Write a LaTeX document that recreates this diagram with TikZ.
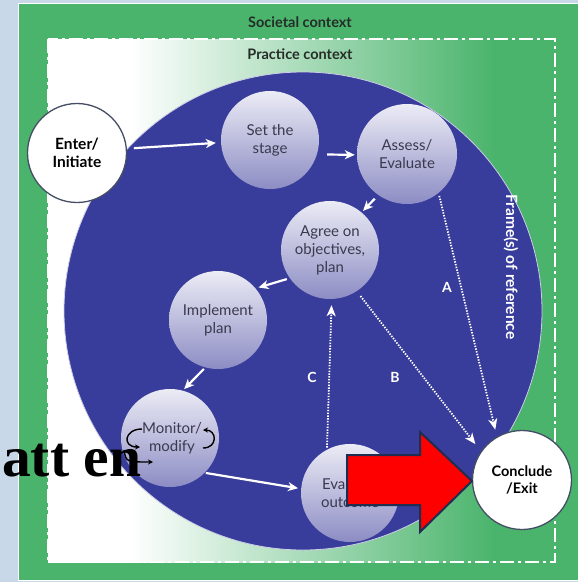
\documentclass[tikz,border=0pt]{standalone}
\usepackage{fontspec}
\usetikzlibrary{arrows.meta,shapes.geometric}
\newfontfamily\lato{Lato}
\newfontfamily\serifb{Liberation Serif}
\definecolor{bgblue}{RGB}{200,216,232}
\definecolor{frgreen}{RGB}{74,180,108}
\definecolor{bigblue}{RGB}{56,60,155}
\definecolor{balltop}{RGB}{236,236,246}
\definecolor{ballbot}{RGB}{140,140,196}
\definecolor{txtgray}{RGB}{58,58,78}
\definecolor{ctxgray}{RGB}{38,44,40}
\definecolor{navy}{RGB}{30,45,80}
\pgfdeclarehorizontalshading{innergrad}{100bp}{color(0bp)=(white); color(25bp)=(white); color(33bp)=(white); color(69bp)=(frgreen); color(100bp)=(frgreen)}
\tikzset{
  stage/.style={circle, minimum size=98pt, inner sep=0pt, top color=balltop, bottom color=ballbot, text=txtgray, font=\lato\fontsize{15}{18}\selectfont, align=center},
  endpt/.style={circle, minimum size=99pt, inner sep=0pt, fill=white, draw=navy!60!gray, line width=1.3pt, text=black, font=\lato\bfseries\fontsize{15.5}{18}\selectfont, align=center},
  flow/.style={white, line width=2.2pt, -{Stealth[length=10pt,width=9pt,inset=3pt]}},
  dotflow/.style={white, line width=1.8pt, dash pattern=on 1.4pt off 1.4pt, -{Stealth[length=11pt,width=9pt,inset=3pt]}},
  cyc/.style={black, line width=1.4pt, -{Stealth[length=5pt,width=5pt]}},
  lbl/.style={white, font=\lato\bfseries\fontsize{14}{16}\selectfont},
  ctx/.style={text=ctxgray, font=\lato\bfseries\fontsize{14.5}{17}\selectfont}
}
\begin{document}
\begin{tikzpicture}[x=1pt,y=-1pt]
\useasboundingbox (0,0) rectangle (578,582);
\fill[bgblue] (0,0) rectangle (578,582);
% frames
\draw[white, line width=1pt, fill=frgreen] (18.5,3.5) rectangle (580,580);
\shade[shading=innergrad] (48,39) rectangle (555,562);
\draw[white, line width=2pt, dash pattern=on 14pt off 4pt on 3pt off 4pt] (48,39) rectangle (555,562);
\node[ctx] (soc) at (300,22) {Societal context};
\node[ctx] (prac) at (300,54) {Practice context};
% big circle
\fill[bigblue] (303,311) circle[radius=239];
\draw[white!75!bigblue, line width=0.8pt] (303,311) circle[radius=239];
\node[white, rotate=-90, font=\lato\bfseries\fontsize{15.5}{17}\selectfont] (frame) at (511,267) {Frame(s) of reference};
% nodes
\node[endpt] (enter) at (77,153) {Enter/\\Initiate};
\node[stage] (setst) at (270,140) {Set the\\stage};
\node[stage, minimum size=100pt] (assess) at (407,154) {Assess/\\Evaluate};
\node[stage] (agree) at (330,250) {Agree on\\objectives,\\plan};
\node[stage] (impl) at (218,320) {Implement\\plan};
\node[stage] (monitor) at (170,438) {};
\node[txtgray, font=\lato\fontsize{15}{18}\selectfont, align=center] (montext) at (172,438) {Monitor/\\modify};
\node[stage] (evalo) at (350,493) {Evaluate\\outcome};
\node[endpt, font=\lato\bfseries\fontsize{14.5}{17}\selectfont] (concl) at (522,480) {Conclude\\/Exit};
% solid flow
\draw[flow, shorten <=7pt, shorten >=5pt] (enter.5) -- (setst.183);
\draw[flow, shorten <=10pt, shorten >=2pt] (setst.-17) -- (assess.181);
\draw[flow, shorten <=5pt, shorten >=2pt] (assess.235) -- (agree.50);
\draw[flow, shorten <=3pt, shorten >=3pt] (agree.215) -- (impl.40);
\draw[flow, shorten <=2pt, shorten >=2pt] (impl.255) -- (monitor.75);
\draw[flow, shorten <=1pt, shorten >=3pt] (monitor.-45) -- (evalo.175);
% dotted paths
\draw[dotflow, shorten <=2pt, shorten >=6pt] (evalo.118) -- (agree.-88);
\draw[dotflow, shorten <=6pt, shorten >=9pt] (agree.-57) -- (concl.145);
\draw[dotflow, shorten <=3pt, shorten >=7pt] (assess.-51) -- (concl.120);
\node[lbl] (la) at (447,287) {A};
\node[lbl] (lb) at (395,377) {B};
\node[lbl] (lc) at (312,377) {C};
% monitor cycle arrows
\draw[cyc] (142,429) .. controls (124,429) and (122,447) .. (140,447);
\draw[cyc] (203,448) .. controls (218,448) and (217,430) .. (203,430);
\draw[cyc] (124,450) .. controls (126,462) .. (153,462);
% red block arrow
\draw[navy, line width=2pt, fill=red, line join=miter] (347,455) -- (420,455) -- (420,432) -- (472,481) -- (420,532) -- (420,505) -- (347,505) -- cycle;
% overlay text
\node[anchor=base west, inner sep=0pt, font=\serifb\bfseries\fontsize{57.5}{60}\selectfont] (att) at (2,476) {att en};
\end{tikzpicture}
\end{document}
